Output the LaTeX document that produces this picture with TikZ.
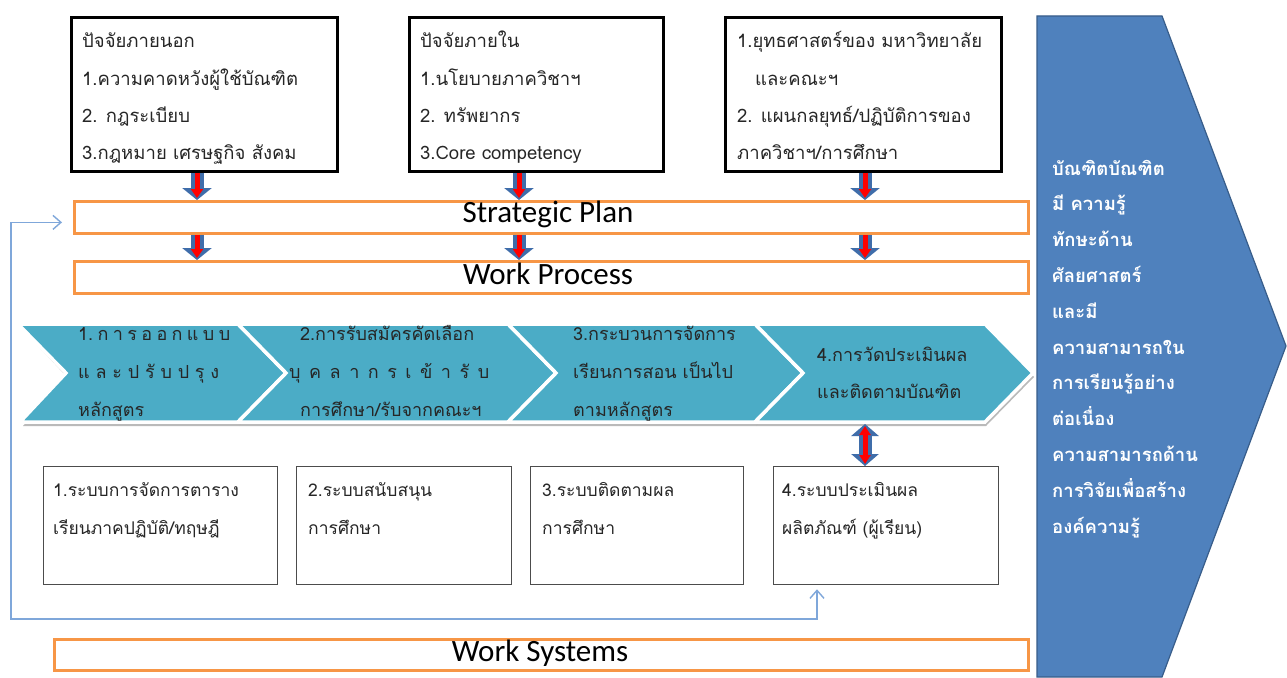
\documentclass[tikz,border=0pt]{standalone}
\usepackage{fontspec}
\newfontfamily\thai[Script=Thai]{Loma}
\newfontfamily\calfont{Carlito}
\usetikzlibrary{arrows.meta,calc}
\definecolor{orangeA}{HTML}{F79646}
\definecolor{chevA}{HTML}{4BACC6}
\definecolor{pentA}{HTML}{4F81BD}
\definecolor{pentB}{HTML}{385D8A}
\definecolor{arrB}{HTML}{3F6DAA}
\definecolor{fbA}{HTML}{7FA7DA}
\newcommand{\spreadbox}[2]{\makebox[#1][s]{#2}}
\begin{document}
\begin{tikzpicture}[x=1pt,y=-1pt,
  topbox/.style={draw=black, line width=2.6pt, anchor=north west, inner sep=0pt},
  obox/.style={draw=orangeA, line width=2.8pt, anchor=north west, inner sep=0pt},
  otxt/.style={font=\calfont\fontsize{31}{32}\selectfont, inner sep=0pt},
  lowbox/.style={draw=black!70, line width=1.3pt, fill=white, anchor=north west, inner sep=0pt},
  chev/.style={fill=chevA, draw=white, line width=3.5pt, line join=miter},
  chevsh/.style={fill=black!45, opacity=0.6},
  ttxt/.style={font=\thai\fontsize{18.5}{20}\selectfont, text=black!85, anchor=base west, inner sep=0pt},
  ctxt/.style={font=\thai\fontsize{18}{20}\selectfont, text=black!85, anchor=base west, inner sep=0pt},
  ltxt/.style={font=\thai\fontsize{17.5}{20}\selectfont, text=black!85, anchor=base west, inner sep=0pt},
  ptxt/.style={font=\thai\bfseries\fontsize{18.5}{20}\selectfont, text=white, anchor=base west, inner sep=0pt},
  barrow/.style={draw=arrB, line width=13pt, -{Triangle[width=29pt,length=12pt]}},
  rarrow/.style={draw=red, line width=5pt, -{Triangle[width=12pt,length=9pt]}, shorten >=2pt},
  bdarrow/.style={draw=arrB, line width=13pt, {Triangle[width=27pt,length=12pt]}-{Triangle[width=27pt,length=12pt]}},
  rdarrow/.style={draw=red, line width=5pt, {Triangle[width=11pt,length=9pt]}-{Triangle[width=11pt,length=9pt]}, shorten >=2pt, shorten <=2pt},
  fbline/.style={draw=fbA, line width=1.4pt, {Straight Barb[length=8pt,width=14pt]}-{Straight Barb[length=8pt,width=14pt]}}
]
\useasboundingbox (0,0) rectangle (1287,677);
\fill[white] (0,0) rectangle (1287,677);

% right pentagon
\filldraw[fill=pentA, draw=pentB, line width=1.2pt] (1037,16) -- (1162,16) -- (1286,346) -- (1162,677) -- (1037,677) -- cycle;
\foreach \t [count=\i] in {บัณฑิตบัณฑิต, มี ความรู้, ทักษะด้าน, ศัลยศาสตร์, และมี, ความสามารถใน, การเรียนรู้อย่าง, ต่อเนื่อง, ความสามารถด้าน, การวิจัยเพื่อสร้าง, องค์ความรู้}
  \node[ptxt] (p\i) at (1052,{139.2+35.8*\i}) {\t};

% top boxes
\node[topbox, minimum width=266pt, minimum height=154pt] (b1) at (70,16) {};
\node[topbox, minimum width=254pt, minimum height=154pt] (b2) at (408,16) {};
\node[topbox, minimum width=276pt, minimum height=154pt] (b3) at (724,16) {};
\foreach \t [count=\i] in {ปัจจัยภายนอก, 1.ความคาดหวังผู้ใช้บัณฑิต, 2. กฎระเบียบ, 3.กฎหมาย เศรษฐกิจ สังคม}
  \node[ttxt] (b1t\i) at (82,{11+37*\i}) {\t};
\foreach \t [count=\i] in {ปัจจัยภายใน, 1.นโยบายภาควิชาฯ, 2. ทรัพยากร, 3.Core competency}
  \node[ttxt] (b2t\i) at (420,{11+37*\i}) {\t};
\node[ttxt] (b3t1) at (737,48) {1.ยุทธศาสตร์ของ มหาวิทยาลัย};
\node[ttxt] (b3t2) at (755,85) {และคณะฯ};
\node[ttxt] (b3t3) at (737,122) {2. แผนกลยุทธ์/ปฏิบัติการของ};
\node[ttxt] (b3t4) at (737,159) {ภาควิชาฯ/การศึกษา};

% orange bars
\node[obox, minimum width=954pt, minimum height=32pt] (sp) at (73,200) {};
\node[otxt] (spt) at (548,214) {Strategic Plan};
\node[obox, minimum width=954pt, minimum height=32pt] (wp) at (73,260) {};
\node[otxt] (wpt) at (548,274) {Work Process};
\node[obox, minimum width=974pt, minimum height=31pt] (ws) at (53,638) {};
\node[otxt] (wst) at (540,653) {Work Systems};

% arrows
\coordinate (ax1) at (197,0);
\coordinate (ax2) at (519,0);
\coordinate (ax3) at (865,0);
\foreach \a/\b in {b1/ax1, b2/ax2, b3/ax3} {
  \draw[barrow] (\a.south -| \b) -- (sp.north -| \b);
  \draw[rarrow] (\a.south -| \b) -- (sp.north -| \b);
  \draw[barrow] (sp.south -| \b) -- (wp.north -| \b);
  \draw[rarrow] (sp.south -| \b) -- (wp.north -| \b);
}

% chevrons shadow
\begin{scope}[yshift=-4pt, xshift=1pt]
\fill[chevsh] (20,324) -- (238,324) -- (286,373) -- (238,422) -- (22,422) -- (66,373) -- cycle;
\fill[chevsh] (238,324) -- (508,324) -- (556,373) -- (508,422) -- (238,422) -- (286,373) -- cycle;
\fill[chevsh] (508,324) -- (755,324) -- (803,373) -- (755,422) -- (508,422) -- (556,373) -- cycle;
\fill[chevsh] (755,324) -- (985,324) -- (1033,373) -- (985,422) -- (755,422) -- (803,373) -- cycle;
\end{scope}
% chevrons
\path[chev] (18,324) -- (238,324) -- (286,373) -- (238,422) -- (20,422) -- (66,373) -- cycle;
\path[chev] (238,324) -- (508,324) -- (556,373) -- (508,422) -- (238,422) -- (286,373) -- cycle;
\path[chev] (508,324) -- (755,324) -- (803,373) -- (755,422) -- (508,422) -- (556,373) -- cycle;
\path[chev] (755,324) -- (985,324) -- (1033,373) -- (985,422) -- (755,422) -- (803,373) -- cycle;
\coordinate (c4b) at (865,424);

\node[ctxt] (c1t1) at (78,340) {\spreadbox{152pt}{1.\hfill ก\hfill า\hfill ร\hfill อ\hfill อ\hfill ก\hfill แ\hfill บ\hfill บ}};
\node[ctxt] (c1t2) at (78,378) {\spreadbox{141pt}{แ\hfill ล\hfill ะ\hfill ป\hfill รั\hfill บ\hfill ป\hfill รุ\hfill ง}};
\node[ctxt] (c1t3) at (78,416) {หลักสูตร};
\node[ctxt] (c2t1) at (300,340) {2.การรับสมัครคัดเลือก};
\node[ctxt] (c2t2) at (289,378) {\spreadbox{200pt}{บุ\hfill ค\hfill ล\hfill า\hfill ก\hfill ร\hfill เ\hfill ข้\hfill า\hfill รั\hfill บ}};
\node[ctxt] (c2t3) at (300,416) {การศึกษา/รับจากคณะฯ};
\node[ctxt] (c3t1) at (573,340) {3.กระบวนการจัดการ};
\node[ctxt] (c3t2) at (573,378) {เรียนการสอน เป็นไป};
\node[ctxt] (c3t3) at (573,416) {ตามหลักสูตร};
\node[ctxt] (c4t1) at (817,361) {4.การวัดประเมินผล};
\node[ctxt] (c4t2) at (817,398) {และติดตามบัณฑิต};

% lower boxes
\node[lowbox, minimum width=234pt, minimum height=118pt] (lb1) at (43,466) {};
\node[lowbox, minimum width=215pt, minimum height=118pt] (lb2) at (296,466) {};
\node[lowbox, minimum width=213pt, minimum height=118pt] (lb3) at (530,466) {};
\node[lowbox, minimum width=225pt, minimum height=118pt] (lb4) at (773,466) {};
\node[ltxt] (l1a) at (53,496) {1.ระบบการจัดการตาราง};
\node[ltxt] (l1b) at (53,534) {เรียนภาคปฏิบัติ/ทฤษฎี};
\node[ltxt] (l2a) at (308,496) {2.ระบบสนับสนุน};
\node[ltxt] (l2b) at (308,534) {การศึกษา};
\node[ltxt] (l3a) at (542,496) {3.ระบบติดตามผล};
\node[ltxt] (l3b) at (542,534) {การศึกษา};
\node[ltxt] (l4a) at (782,496) {4.ระบบประเมินผล};
\node[ltxt] (l4b) at (782,534) {ผลิตภัณฑ์ (ผู้เรียน)};

% double arrow
\draw[bdarrow] (c4b) -- (lb4.north -| c4b);
\draw[rdarrow] (c4b) -- (lb4.north -| c4b);

% feedback loop
\coordinate (fbx) at (817,0);
\coordinate (fbl) at (11,619);
\draw[fbline] ([yshift=-4pt]lb4.south -| fbx) |- (fbl) |- ([xshift=-11pt,yshift=-5pt]sp.west);
\end{tikzpicture}
\end{document}
